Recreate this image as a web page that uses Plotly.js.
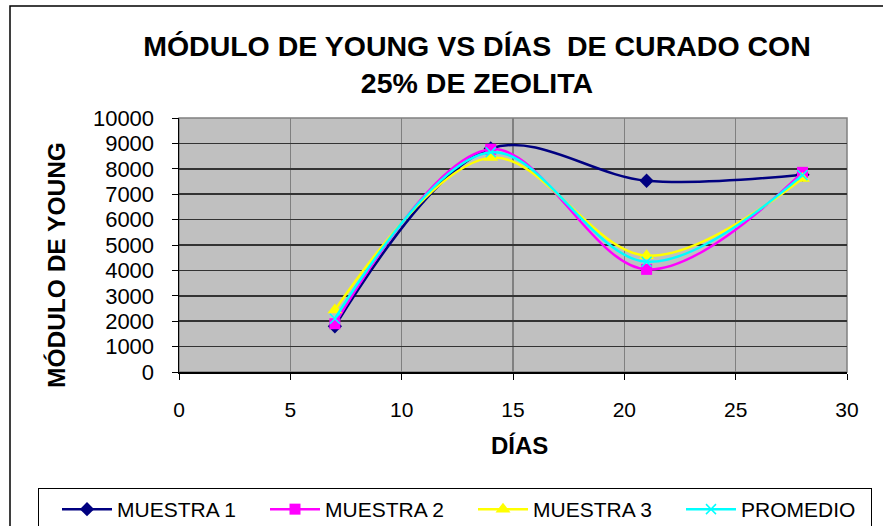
<!DOCTYPE html>
<html>
<head>
<meta charset="utf-8">
<script src="https://cdn.plot.ly/plotly-3.0.1.min.js"></script>
<style>html,body{margin:0;padding:0;background:#fff;}#chart{width:883px;height:526px;}</style>
</head>
<body>
<div id="chart"></div>
<script>
var dias = [7, 14, 21, 28];
var muestra1 = [1800, 8800, 7530, 7770];
var muestra2 = [1900, 8770, 4040, 7860];
var muestra3 = [2440, 8440, 4580, 7620];
var promedio = [2100, 8650, 4340, 7750];
var seriesNames = ['MUESTRA 1', 'MUESTRA 2', 'MUESTRA 3', 'PROMEDIO'];
var xTicks = [0, 5, 10, 15, 20, 25, 30];
var yTicks = [0, 1000, 2000, 3000, 4000, 5000, 6000, 7000, 8000, 9000, 10000];

var colors = ['#000080', '#FF00FF', '#FFFF00', '#00FFFF'];
var symbols = ['diamond', 'square', 'triangle-up', 'x-thin'];
var sizes = [11, 11, 13, 10];
var data = [muestra1, muestra2, muestra3, promedio].map(function (vals, i) {
  return {
    x: dias, y: vals, name: seriesNames[i], type: 'scatter', mode: 'lines+markers',
    line: {color: colors[i], width: 2.5, shape: 'spline', smoothing: 1},
    marker: {symbol: symbols[i], size: sizes[i], color: colors[i],
             line: {color: colors[i], width: i === 3 ? 1.5 : 0}}
  };
});

var L = 179, R = 36, T = 118, B = 154;
var W = 883 - L - R, H = 526 - T - B;
function px(x) { return (x - L) / W; }
function py(y) { return (526 - B - y) / H; }
var FONT = 'Arial, Liberation Sans, sans-serif';

var layout = {
  width: 883, height: 526,
  margin: {l: L, r: R, t: T, b: B, pad: 0, autoexpand: false},
  paper_bgcolor: '#FFFFFF',
  plot_bgcolor: '#C0C0C0',
  font: {family: FONT, color: '#000', size: 21},
  title: {
    text: 'MÓDULO DE YOUNG VS DÍAS&nbsp; DE CURADO CON<br>25% DE ZEOLITA',
    font: {size: 28.5, family: FONT, weight: 'bold', color: '#000'},
    x: 477 / 883, xref: 'container', xanchor: 'center',
    y: 1 - 56 / 526, yref: 'container', yanchor: 'middle'
  },
  xaxis: {
    range: [0, 30], tickvals: xTicks, ticktext: xTicks.map(String),
    showgrid: true, gridcolor: '#808080', gridwidth: 1.5,
    zeroline: false, showline: true, linecolor: '#000', linewidth: 1.5,
    ticks: 'outside', ticklen: 6, tickcolor: '#000', tickwidth: 1,
    ticklabelstandoff: 12,
    tickfont: {size: 21}
  },
  yaxis: {
    range: [0, 10000], tickvals: yTicks, ticktext: yTicks.map(String),
    showgrid: true, gridcolor: '#333333', gridwidth: 1.5,
    zeroline: false, showline: true, linecolor: '#000', linewidth: 1.5,
    ticks: 'outside', ticklen: 6, tickcolor: '#000', tickwidth: 1,
    ticklabelstandoff: 13,
    tickfont: {size: 22}
  },
  annotations: [
    {text: 'MÓDULO DE YOUNG', xref: 'paper', yref: 'paper', x: px(56), y: py(265),
     xanchor: 'center', yanchor: 'middle', textangle: -90, showarrow: false,
     font: {size: 24.5, weight: 'bold', family: FONT}},
    {text: 'DÍAS', xref: 'paper', yref: 'paper', x: px(519), y: py(445),
     xanchor: 'center', yanchor: 'middle', showarrow: false,
     font: {size: 24, weight: 'bold', family: FONT}}
  ],
  legend: {
    orientation: 'h', x: px(38), y: py(488), xanchor: 'left', yanchor: 'top',
    bgcolor: '#FFFFFF', bordercolor: '#000', borderwidth: 1,
    font: {size: 21}, entrywidth: 125, entrywidthmode: 'pixels',
    itemwidth: 50, indentation: 18
  },
  showlegend: true,
  shapes: [
    {type: 'rect', xref: 'paper', yref: 'paper', x0: 0, x1: 1, y0: 0, y1: 1,
     line: {color: '#808080', width: 1.5}, layer: 'below'},
    {type: 'rect', xref: 'paper', yref: 'paper', x0: px(10), x1: px(900), y0: py(540), y1: py(6),
     line: {color: '#000', width: 1.5}, fillcolor: 'rgba(0,0,0,0)', layer: 'above'}
  ]
};

Plotly.newPlot('chart', data, layout, {displayModeBar: false, staticPlot: true});
</script>
</body>
</html>
